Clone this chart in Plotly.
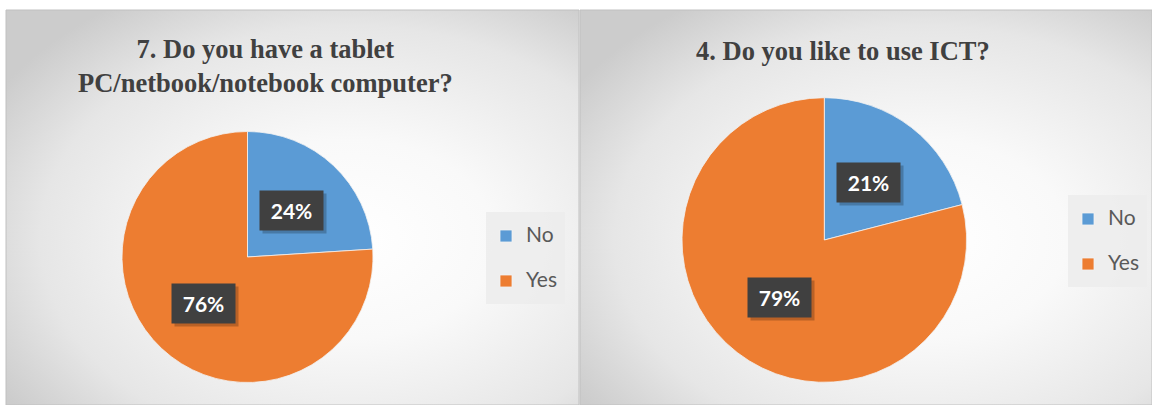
import base64
import math
import plotly.graph_objects as go

W, H = 1152, 405

# ---- data ----
categories = ["No", "Yes"]
slice_colors = ["#5B9BD5", "#ED7D31"]
tablet_values = [24, 76]
ict_values = [21, 79]
titles = ["7. Do you have a tablet<br>PC/netbook/notebook computer?",
          "4. Do you like to use ICT?"]

# ---- layout geometry (pixels) ----
panels = [(6, 10, 579, 405), (580, 10, 1152, 405)]          # x0, y0, x1, y1 (from top)
pie_geom = [(247.5, 257.0, 125.5), (824.3, 240.0, 142.3)]    # cx, cy, r
title_pos = [(265, 66), (843, 51)]
legend_box = [(486, 212), (1068, 195)]                        # legend box top-left
legend_shift = 7
label_frac = 0.51


def px(x):
    return x / W


def py(y):
    return 1 - y / H


def panel_svg(w, h):
    svg = f'''<svg xmlns="http://www.w3.org/2000/svg" width="{w}" height="{h}" viewBox="0 0 {w} {h}" preserveAspectRatio="none">
<defs><radialGradient id="g" cx="0.6" cy="0.58" r="0.72">
<stop offset="0" stop-color="#ffffff"/>
<stop offset="0.35" stop-color="#f9f9f9"/>
<stop offset="0.75" stop-color="#e6e6e6"/>
<stop offset="1" stop-color="#cccccc"/>
</radialGradient></defs>
<rect x="0" y="0" width="{w}" height="{h}" fill="url(#g)"/></svg>'''
    return "data:image/svg+xml;base64," + base64.b64encode(svg.encode()).decode()


fig = go.Figure()

images, shapes, annotations = [], [], []
for (x0, y0, x1, y1) in panels:
    images.append(dict(source=panel_svg(x1 - x0, y1 - y0), xref="paper", yref="paper",
                       x=px(x0), y=py(y0), sizex=(x1 - x0) / W, sizey=(y1 - y0) / H,
                       xanchor="left", yanchor="top", sizing="stretch", layer="below"))
    shapes.append(dict(type="rect", xref="paper", yref="paper", x0=px(x0), x1=px(x1),
                       y0=py(y1), y1=py(y0), line=dict(color="#c0c0c0", width=1),
                       fillcolor="rgba(0,0,0,0)", layer="below"))

for (lx, ly) in legend_box:
    shapes.append(dict(type="rect", xref="paper", yref="paper", x0=px(lx), x1=px(lx + 79),
                       y0=py(ly + 92), y1=py(ly), line=dict(width=0),
                       fillcolor="rgba(236,236,236,0.85)", layer="below"))

legend_names = ["legend", "legend2"]
for i, values in enumerate([tablet_values, ict_values]):
    cx, cy, r = pie_geom[i]
    pad = " " * (i + 1)  # keeps the two pies' legend entries distinct
    fig.add_trace(go.Pie(
        labels=[f'<span style="font-size:21px">{c}</span><br>{pad}' for c in categories],
        values=values,
        marker=dict(colors=slice_colors, line=dict(color="#f2f2f2", width=0.8)),
        sort=False, direction="clockwise", rotation=0,
        textinfo="none", hoverinfo="percent",
        domain=dict(x=[px(cx - r), px(cx + r)], y=[py(cy + r), py(cy - r)]),
        legend=legend_names[i], showlegend=True,
    ))
    # percentage labels
    total = sum(values)
    cum = 0
    for v in values:
        mid = (cum + v / 2) / total * 360
        cum += v
        lxp = cx + math.sin(math.radians(mid)) * r * label_frac
        lyp = cy - math.cos(math.radians(mid)) * r * label_frac
        txt = f"{round(v / total * 100)}%"
        # soft drop shadow box
        annotations.append(dict(
            x=px(lxp), y=py(lyp), xref="paper", yref="paper", showarrow=False,
            xanchor="center", yanchor="middle", text="&#160;",
            width=51, height=27, borderpad=6, xshift=3, yshift=-3,
            bgcolor="rgba(0,0,0,0.22)", font=dict(family="Lato", size=21),
        ))
        annotations.append(dict(
            x=px(lxp), y=py(lyp), xref="paper", yref="paper", showarrow=False,
            xanchor="center", yanchor="middle",
            text=f"<b>{txt}</b>", width=51, height=27, borderpad=6,
            bgcolor="#404040", font=dict(family="Lato", size=21, color="#ffffff"),
        ))
    tx, ty = title_pos[i]
    annotations.append(dict(
        x=px(tx), y=py(ty), xref="paper", yref="paper", showarrow=False,
        text=f"<b>{titles[i]}</b>", xanchor="center", yanchor="middle",
        font=dict(family="Liberation Serif", size=26.5, color="#404040"),
    ))

legend_common = dict(font=dict(family="Lato", size=16.15, color="#595959"),
                     bgcolor="rgba(0,0,0,0)", valign="top",
                     xanchor="left", yanchor="top", orientation="v")

fig.update_layout(
    width=W, height=H, margin=dict(l=0, r=0, t=0, b=0),
    paper_bgcolor="#ffffff", plot_bgcolor="#ffffff",
    images=images, shapes=shapes, annotations=annotations,
    legend=dict(x=px(legend_box[0][0]), y=py(legend_box[0][1] + legend_shift), **legend_common),
    legend2=dict(x=px(legend_box[1][0]), y=py(legend_box[1][1] + legend_shift), **legend_common),
)

fig.write_html("out.html", config={"displayModeBar": False},
               post_script="document.body.style.margin='0px';document.body.style.padding='0px';")
